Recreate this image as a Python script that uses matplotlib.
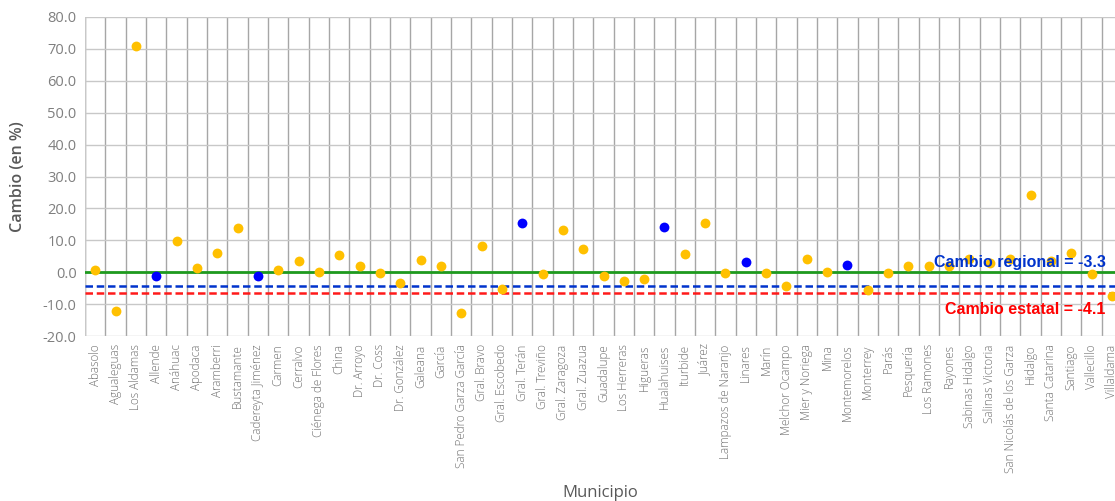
import numpy as np
import matplotlib.pyplot as plt

municipios = ['Abasolo', 'Agualeguas', 'Los Aldamas', 'Allende', 'Anáhuac', 'Apodaca',
              'Aramberri', 'Bustamante', 'Cadereyta Jiménez', 'Carmen', 'Cerralvo',
              'Ciénega de Flores', 'China', 'Dr. Arroyo', 'Dr. Coss', 'Dr. González',
              'Galeana', 'García', 'San Pedro Garza García', 'Gral. Bravo', 'Gral. Escobedo',
              'Gral. Terán', 'Gral. Treviño', 'Gral. Zaragoza', 'Gral. Zuazua', 'Guadalupe',
              'Los Herreras', 'Higueras', 'Hualahuises', 'Iturbide', 'Juárez',
              'Lampazos de Naranjo', 'Linares', 'Marín', 'Melchor Ocampo', 'Mier y Noriega',
              'Mina', 'Montemorelos', 'Monterrey', 'Parás', 'Pesquería', 'Los Ramones',
              'Rayones', 'Sabinas Hidalgo', 'Salinas Victoria', 'San Nicolás de los Garza',
              'Hidalgo', 'Santa Catarina', 'Santiago', 'Vallecillo', 'Villaldama']

cambio = [0.8, -12.2, 70.9, -1.2, 9.8, 1.2, 6.0, 13.7, -1.3, 0.8, 3.4,
          0.1, 5.4, 2.0, -0.1, -3.3, 3.7, 2.0, -12.9, 8.1, -5.3,
          15.5, -0.7, 13.1, 7.3, -1.3, -2.7, -2.0, 14.2, 5.6, 15.4,
          -0.4, 3.3, -0.1, -4.2, 4.2, 0.1, 2.4, -5.7, -0.1, 2.0, 2.1,
          1.8, 4.1, 3.0, 4.1, 24.3, 3.4, 5.9, -0.5, -7.6]

# municipios de la region (puntos azules)
region = ['Allende', 'Cadereyta Jiménez', 'Gral. Terán', 'Hualahuises', 'Linares', 'Montemorelos']

linea_regional = -4.2
linea_estatal = -6.5
texto_regional = 'Cambio regional = -3.3'
texto_estatal = 'Cambio estatal = -4.1'

fig = plt.figure(figsize=(11.15, 5.01), dpi=100)
W, H = 1115, 501
ax = fig.add_axes([85 / W, (H - 336) / H, 1037 / W, 319 / H])

x = np.arange(len(municipios))
cambio = np.array(cambio)
es_region = np.array([m in region for m in municipios])

ax.set_xlim(-0.5, len(municipios) - 0.5)
ax.set_ylim(-20, 80)

# grid
for xv in np.arange(-0.5, len(municipios), 1.0):
    ax.axvline(xv, color='#A6A6A6', lw=1.0, zorder=0)
for yv in np.arange(-20, 81, 10):
    ax.axhline(yv, color='#C8C8C8', lw=1.0, zorder=0)

ax.axhline(0, color='#1E9A1E', lw=2.0, zorder=2)
ax.axhline(linea_regional, color='#0033CC', lw=1.8, ls=(0, (3, 1.5)), zorder=2)
ax.axhline(linea_estatal, color='#FF1A1A', lw=1.8, ls=(0, (3, 1.5)), zorder=2)

ax.scatter(x[~es_region], cambio[~es_region], s=50, color='#FFC000', zorder=3, linewidths=0)
ax.scatter(x[es_region], cambio[es_region], s=50, color='#0000FF', zorder=3, linewidths=0)

ann_font = ['Liberation Sans', 'DejaVu Sans']
ax.text(49.7, 2.9, texto_regional, color='#0033CC', fontsize=11.5, ha='right', va='center',
        family=ann_font, fontweight='bold', zorder=4)
ax.text(49.7, -11.6, texto_estatal, color='#FF0000', fontsize=11.5, ha='right', va='center',
        family=ann_font, fontweight='bold', zorder=4)

for s in ax.spines.values():
    s.set_visible(False)
ax.axvline(-0.5, color='#C8C8C8', lw=1.0, zorder=1)

ax.set_yticks(np.arange(-20, 81, 10))
ax.set_yticklabels([f'{v:.1f}' for v in np.arange(-20, 81, 10)], family='Open Sans',
                   fontsize=10.5, color='#7F7F7F')
ax.set_xticks(x)
ax.set_xticklabels(municipios, rotation=90, family='Open Sans', fontsize=8.5,
                   color='#6F6F6F', fontweight='light')
ax.tick_params(length=0, pad=6)

ax.set_ylabel('Cambio (en %)', family='Open Sans', fontsize=11.5, color='#595959',
              fontweight='semibold', labelpad=12)
fig.text(600 / W, 1 - 493 / H, 'Municipio', family='Open Sans', fontsize=12,
         color='#595959', ha='center', va='center')

fig.savefig('out.png', dpi=100)
